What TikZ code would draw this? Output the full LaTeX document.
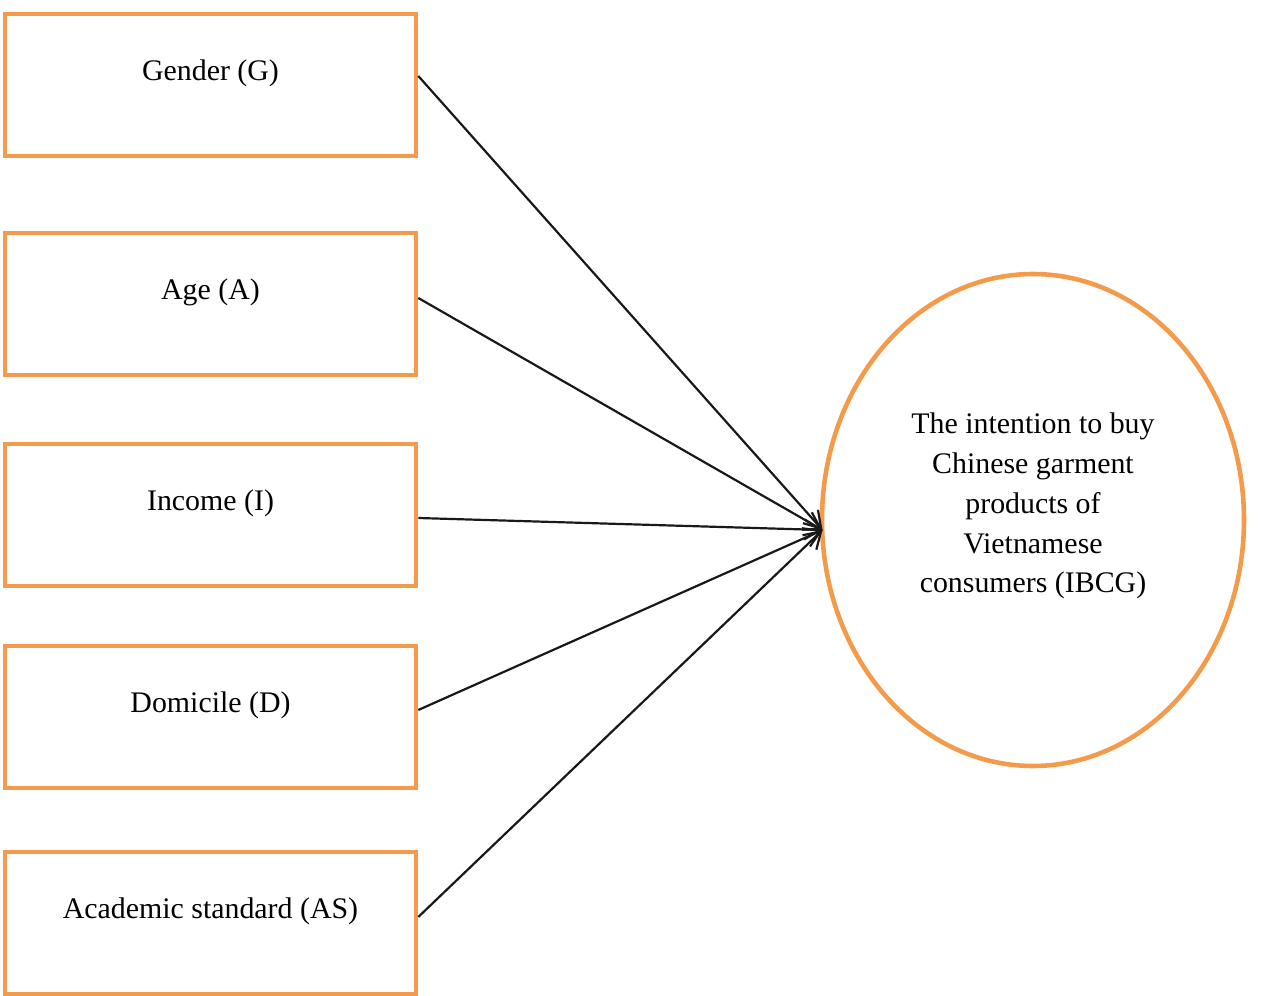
\documentclass[tikz,border=0pt]{standalone}
\usepackage{fontspec}
\setmainfont{Liberation Serif}
\usetikzlibrary{shapes.geometric,arrows.meta}
\definecolor{boxorange}{RGB}{243,155,74}
\tikzset{
  factor/.style={draw=boxorange, line width=2.6pt, minimum width=8.22cm, minimum height=2.84cm},
  target/.style={ellipse, draw=boxorange, line width=2.6pt, minimum width=8.44cm, minimum height=9.84cm},
  path/.style={draw=black!90, line width=1.25pt, -{Straight Barb[length=0.32cm, width=0.4cm]}}
}
\begin{document}
\begin{tikzpicture}[font=\fontsize{17}{22.7}\selectfont]
\useasboundingbox (0,0) rectangle (25.3,-19.92);

% Factors (left)
\node[factor, label={[yshift=0.24cm]center:Gender (G)}] (G) at (4.21,-1.70) {};
\node[factor, label={[yshift=0.24cm]center:Age (A)}] (A) at (4.21,-6.08) {};
\node[factor, label={[yshift=0.24cm]center:Income (I)}] (I) at (4.21,-10.30) {};
\node[factor, label={[yshift=0.24cm]center:Domicile (D)}] (D) at (4.21,-14.34) {};
\node[factor, label={[yshift=0.24cm]center:Academic standard (AS)}] (AS) at (4.21,-18.46) {};

% Intention (right)
\node[target, label={[yshift=0.28cm, align=center]center:The intention to buy\\Chinese garment\\products of\\Vietnamese\\consumers (IBCG)}] (IBCG) at (20.66,-10.40) {};
\coordinate (tip) at (16.45,-10.60);

% Arrows into the intention
\draw[path] ([yshift=0.18cm]G.east) -- (tip);
\draw[path] ([yshift=0.12cm]A.east) -- (tip);
\draw[path] ([yshift=-0.06cm]I.east) -- (tip);
\draw[path] ([yshift=0.14cm]D.east) -- (tip);
\draw[path] ([yshift=0.12cm]AS.east) -- (tip);

\end{tikzpicture}
\end{document}
